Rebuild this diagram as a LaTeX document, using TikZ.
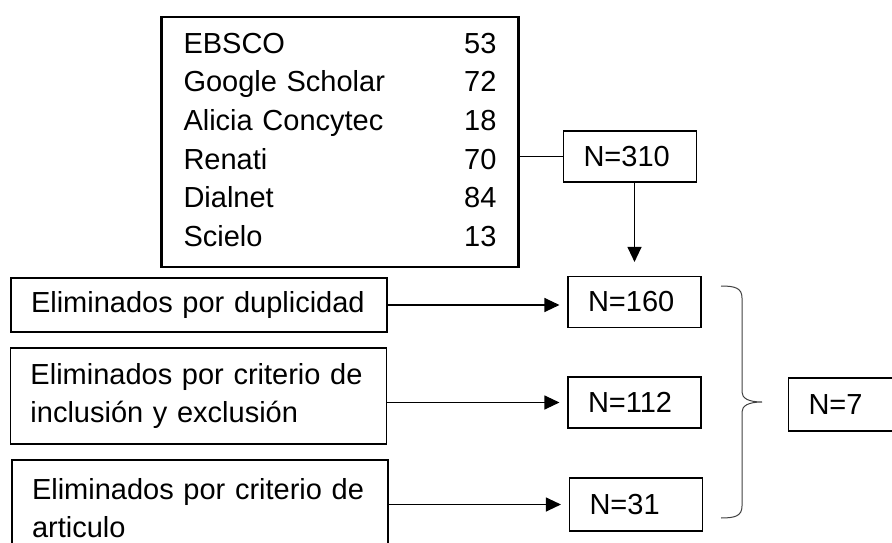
\documentclass[tikz,border=0pt]{standalone}
\usepackage{fontspec}
\setmainfont{Liberation Sans}
\usetikzlibrary{arrows.meta}

\begin{document}
\begin{tikzpicture}[x=1pt, y=-1pt,
  font=\fontsize{29}{38.6}\selectfont,
  caja/.style={draw, line width=1.1pt, inner xsep=20pt, inner ysep=0pt, align=left},
  nbox/.style={caja, text width=93pt, minimum height=51pt},
  elim/.style={caja, text width=336pt},
  flecha/.style={line width=1.1pt, -{Triangle[length=15pt,width=14pt]}}]

\useasboundingbox (0,0) rectangle (892,543);
\clip (0,0) rectangle (892,543);

\node[caja, line width=2.2pt, inner xsep=22pt, text width=313pt, minimum height=250pt]
  (fuentes) at (340,142) {%
  \begin{tabular*}{313pt}{@{}l@{\extracolsep{\fill}}r@{}}
  EBSCO & 53\\
  Google Scholar & 72\\
  Alicia Concytec & 18\\
  Renati & 70\\
  Dialnet & 84\\
  Scielo & 13
  \end{tabular*}};

\node[nbox] (n310) at (630,156.5) {N=310};
\node[nbox] (n160) at (634.5,302) {N=160};
\node[nbox] (n112) at (634.5,402.5) {N=112};
\node[nbox, minimum height=53pt] (n31) at (636,504.5) {N=31};
\node[nbox, anchor=west, minimum height=53pt] (n7) at (788,404.5) {N=7};

\node[elim, minimum height=54pt] (dup) at (199,305) {Eliminados por duplicidad};
\node[elim, minimum height=96pt] (incl) at (198.5,396) {Eliminados por criterio de\\inclusión y exclusión};
\node[elim, minimum height=96pt] (art) at (200,508) {Eliminados por criterio de\\articulo};

\draw[line width=1.1pt] (fuentes.east |- n310) -- (n310.west);
\draw[flecha, shorten >=14pt] (n310.south -| n160) -- (n160.north);

\draw[flecha, shorten >=8pt] (dup.east) -- (dup.east -| n160.west);
\draw[flecha, shorten >=8pt] (incl.east |- n112) -- (n112.west);
\draw[flecha, shorten >=8pt] (art.east |- n31) -- (n31.west);

% llave
\draw[line width=1pt, black!75]
  (721,286) .. controls (735,286) and (742,288) .. (742,298) -- (742,392)
  .. controls (742,398) and (748,402) .. (762,402)
  .. controls (748,402) and (742,406) .. (742,412) -- (742,506)
  .. controls (742,516) and (735,518) .. (721,518);

\end{tikzpicture}
\end{document}
